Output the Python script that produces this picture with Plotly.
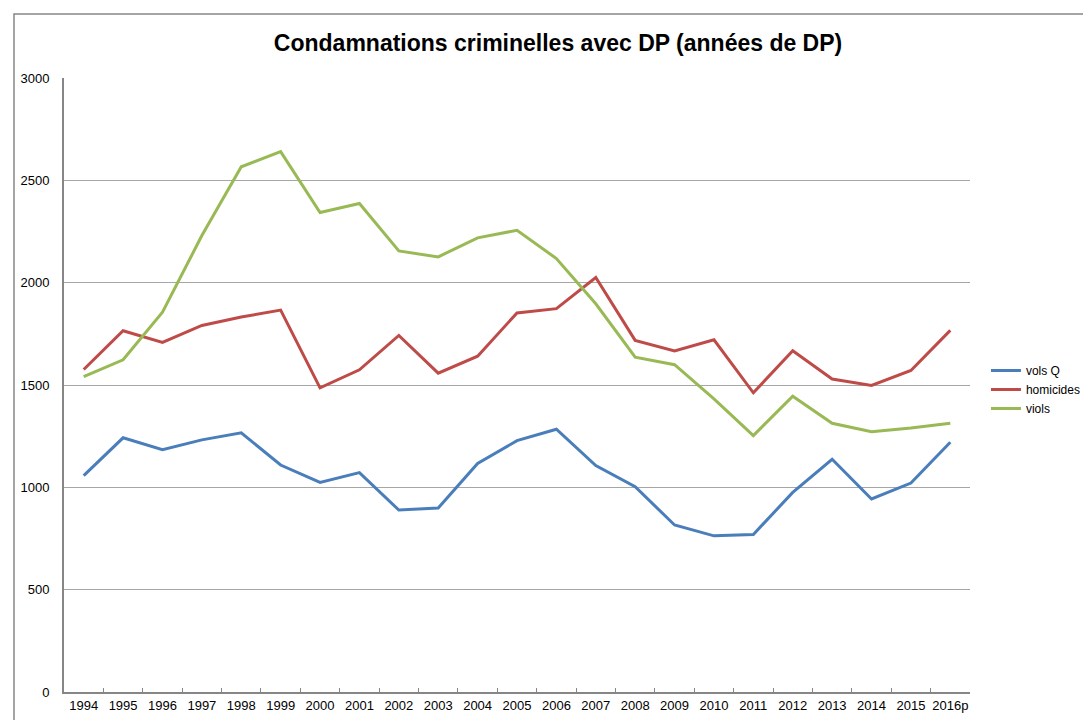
import plotly.graph_objects as go

years = ["1994", "1995", "1996", "1997", "1998", "1999", "2000", "2001", "2002", "2003",
         "2004", "2005", "2006", "2007", "2008", "2009", "2010", "2011", "2012", "2013",
         "2014", "2015", "2016p"]
vols_q = [1057, 1242, 1184, 1232, 1266, 1109, 1024, 1072, 889, 899,
          1117, 1228, 1284, 1106, 1003, 816, 763, 770, 975, 1137,
          943, 1021, 1220]
homicides = [1576, 1765, 1708, 1791, 1832, 1866, 1486, 1574, 1742, 1558,
             1641, 1852, 1873, 2025, 1718, 1666, 1721, 1462, 1667, 1529,
             1498, 1571, 1767]
viols = [1541, 1623, 1856, 2230, 2566, 2640, 2343, 2387, 2155, 2126,
         2219, 2256, 2118, 1897, 1636, 1599, 1432, 1253, 1445, 1313,
         1272, 1290, 1313]

series = [("vols Q", vols_q, "#4A7EBB"),
          ("homicides", homicides, "#BE4B48"),
          ("viols", viols, "#98B954")]

fig = go.Figure()
for name, vals, col in series:
    fig.add_trace(go.Scatter(x=years, y=vals, mode="lines", name=name,
                             line=dict(color=col, width=3)))

font_family = "Liberation Sans, Arial, sans-serif"
W, H = 1083, 712
L, T, PW, PH = 56, 70, 906, 614
fig.update_layout(
    width=W, height=H,
    margin=dict(l=L, r=W - L - PW, t=T, b=H - T - PH, autoexpand=False),
    paper_bgcolor="white", plot_bgcolor="white",
    title=dict(text="<b>Condamnations criminelles avec DP (années de DP)</b>",
               x=0.5079, xanchor="center", y=0.9508, yanchor="middle",
               font=dict(family=font_family, size=23, color="black")),
    font=dict(family=font_family, size=13, color="black"),
    legend=dict(x=1.0176, y=0.4927, xanchor="left", yanchor="middle",
                font=dict(size=12), tracegroupgap=0, itemwidth=30,
                bgcolor="rgba(0,0,0,0)"),
    showlegend=True,
)
fig.update_xaxes(type="category", range=[-0.5, 22.5], showgrid=False,
                 showline=True, linecolor="#868686", linewidth=2,
                 ticks="inside", tickson="boundaries", ticklen=4,
                 tickcolor="#868686", tickfont=dict(size=13), tickangle=0,
                 automargin=False)
fig.update_yaxes(range=[0, 3000], dtick=500, showgrid=True, gridcolor="#A6A6A6",
                 gridwidth=1, showline=True, linecolor="#868686", linewidth=2,
                 ticks="outside", ticklen=10, tickcolor="rgba(0,0,0,0)",
                 tickfont=dict(size=13), zeroline=False, automargin=False)

fig.add_shape(type="rect", xref="paper", yref="paper",
              x0=(6 - L) / PW, x1=1.3, y0=-0.2, y1=(T + PH - 6) / PH,
              line=dict(color="#868686", width=1.5), fillcolor="rgba(0,0,0,0)",
              layer="below")

fig.write_html("out.html")
